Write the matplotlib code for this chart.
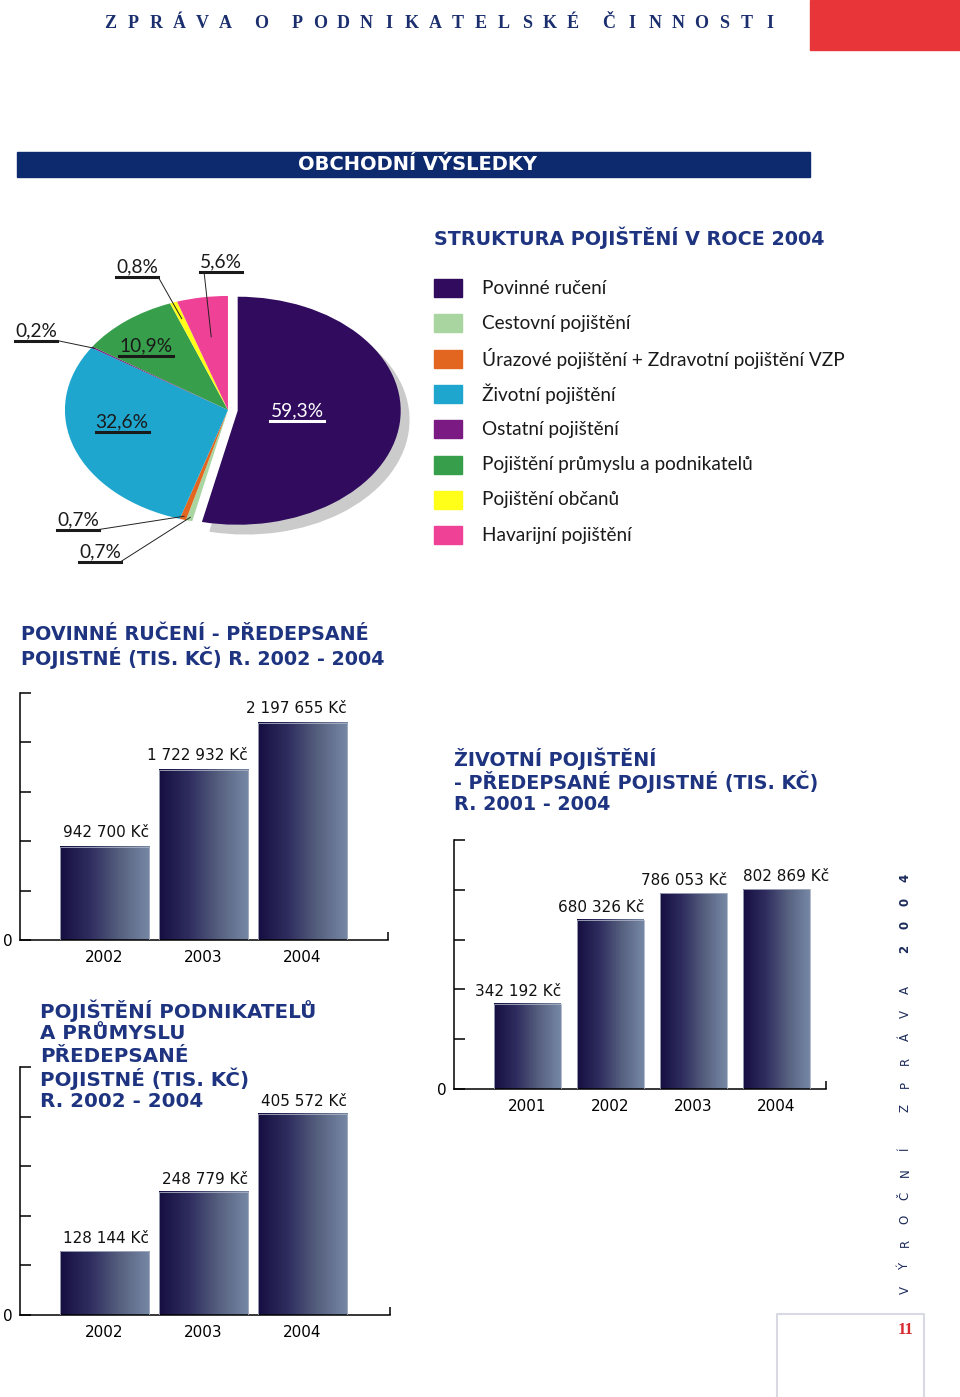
import matplotlib
matplotlib.use('Agg')
import matplotlib.pyplot as plt
import numpy as np
from matplotlib.patches import Rectangle, Wedge
from matplotlib.colors import LinearSegmentedColormap

# struktura pojisteni v roce 2004 (po smeru hodin od 12 hodin)
pie_names = ['Povinné ručení', 'Cestovní pojištění',
             'Úrazové pojištění + Zdravotní pojištění VZP', 'Životní pojištění',
             'Ostatní pojištění', 'Pojištění průmyslu a podnikatelů',
             'Pojištění občanů', 'Havarijní pojištění']
pie_share = [59.3, 0.7, 0.7, 32.6, 0.2, 10.9, 0.8, 5.6]
pie_colors = ['#300b5e', '#a9d6a0', '#e2661f', '#1fa6cf',
              '#7a1a82', '#379e4b', '#ffff1a', '#ef4297']

# predepsane pojistne (tis. Kc)
years_povinne = ['2002', '2003', '2004']
povinne = [942700, 1722932, 2197655]
years_zivotni = ['2001', '2002', '2003', '2004']
zivotni = [342192, 680326, 786053, 802869]
years_podnik = ['2002', '2003', '2004']
podnik = [128144, 248779, 405572]

W, H = 960, 1397
NAVY = '#1e3480'
SANS = ['Lato', 'DejaVu Sans']
plt.rcParams['font.family'] = ['DejaVu Sans']

fig = plt.figure(figsize=(W / 100, H / 100), dpi=100)


def px_axes(x0, y0, x1, y1):
    # axes placed in page pixels (y down)
    return fig.add_axes([x0 / W, 1 - y1 / H, (x1 - x0) / W, (y1 - y0) / H])


pg = px_axes(0, 0, W, H)
pg.set_xlim(0, W)
pg.set_ylim(H, 0)
pg.axis('off')
pg.set_zorder(10)

# page header
pg.add_patch(Rectangle((810, 0), 150, 50, color='#e8353a'))
words = ['ZPRÁVA', 'O', 'PODNIKATELSKÉ', 'ČINNOSTI']
i = 0
for w_i, word in enumerate(words):
    for ch in word:
        pg.text(110 + i * 23.0 + w_i * 13, 23, ch, color='#1b2f6e', fontsize=13,
                fontweight='bold', family='Liberation Serif', ha='center', va='center')
        i += 1

pg.add_patch(Rectangle((17, 152), 793, 25, color='#0e2a6e'))
pg.text(417, 165, 'OBCHODNÍ VÝSLEDKY', color='white', fontsize=14,
        fontweight='bold', ha='center', va='center')

# vertical side text
side_words = ['VÝROČNÍ', 'ZPRÁVA', '2004']
i = 0
for w_i, word in enumerate(side_words):
    for ch in word:
        pg.text(905, 1290 - i * 23.5 - w_i * 18, ch, color='#1b2a5a', fontsize=8.5,
                fontweight='bold' if w_i == 2 else 'normal', rotation=90,
                ha='center', va='center')
        i += 1

# page number box
pg.plot([777, 777, 924, 924], [1397, 1314, 1314, 1397], color='#d9d9e3', lw=1.5)
pg.text(906, 1330, '11', color='#d8282f', fontsize=12, fontweight='bold',
        family='Liberation Serif', ha='center', va='center')


def heading(x, y, lines, dy=23, size=13.8):
    for k, line in enumerate(lines):
        pg.text(x, y + k * dy, line, color=NAVY, fontsize=size, fontweight='bold',
                ha='left', va='center')


# ---- pie ----
ax_pie = px_axes(40, 280, 420, 560)
wedges, _ = ax_pie.pie(pie_share, colors=pie_colors, startangle=90, counterclock=False,
                       explode=[0.06] + [0] * 7, wedgeprops=dict(linewidth=0))
ax_pie.set_aspect('auto')
ax_pie.set_xlim(-1.153, 1.178)
ax_pie.set_ylim(-1.316, 1.140)
ax_pie.axis('off')
w0 = wedges[0]
ax_pie.add_patch(Wedge((w0.center[0] + 0.05, w0.center[1] - 0.08), w0.r, w0.theta1, w0.theta2,
                       color='#cbcbcb', zorder=0))

pie_lab_pos = [(297, 411, None), (100, 552, 'right'), (78, 520, 'right'), (122, 422, None),
               (36, 331, 'right'), (146, 346, None), (137, 267, 'right'), (221, 262, 'left')]
anchor_r = [0, 0.97, 0.97, 0, 0.98, 0, 0.85, 0.65]
pie_texts = []
for k, v in enumerate(pie_share):
    lx, ly, _s = pie_lab_pos[k]
    t = pg.text(lx, ly, f'{v:.1f}'.replace('.', ',') + '%', fontsize=13.8, family=SANS,
                color='white' if k == 0 else '#1a1a1a', ha='center', va='center')
    pie_texts.append(t)

# legend
pg.text(434, 238, 'STRUKTURA POJIŠTĚNÍ V ROCE 2004', color=NAVY, fontsize=13.8,
        fontweight='bold', ha='left', va='center')
for k, (name, col) in enumerate(zip(pie_names, pie_colors)):
    y = 288 + k * 35.3
    pg.add_patch(Rectangle((434, y - 9), 28, 18, color=col))
    pg.text(482, y, name, fontsize=13.7, family=SANS, color='#1a1a1a', ha='left', va='center')

# ---- bar charts ----
bar_cmap = LinearSegmentedColormap.from_list('bar', ['#150f40', '#2f2d5f', '#56607f', '#7688a5'])
grad = np.linspace(0, 1, 200).reshape(1, -1)


def bar_chart(rect, years, vals, ymax, xlim, width, align, lab_dy):
    ax = px_axes(*rect)
    x = np.arange(len(vals))
    bars = ax.bar(x, vals, width=width, color='none', edgecolor='#aab0c4',
                  linewidth=0.6, zorder=3)
    for b, v, al in zip(bars, vals, align):
        ax.imshow(grad, cmap=bar_cmap, aspect='auto', zorder=2,
                  extent=[b.get_x(), b.get_x() + b.get_width(), 0, b.get_height()])
        bx = b.get_x() + (b.get_width() if al == 'right' else 0)
        ax.annotate(f'{v:,} Kč'.replace(',', ' '), (bx, v), xytext=(0, lab_dy),
                    textcoords='offset pixels', ha=al, va='baseline', fontsize=11,
                    color='#111111')
    ax.set_xlim(*xlim)
    ax.set_ylim(0, ymax)
    ax.set_yticks(np.linspace(0, ymax, 6))
    ax.set_yticklabels(['0'] + [''] * 5)
    ax.tick_params(axis='y', direction='in', length=8, width=1.1, pad=5, labelsize=11)
    ax.set_xticks(x)
    ax.set_xticklabels(years)
    ax.tick_params(axis='x', length=0, pad=7, labelsize=11)
    ax.set_xticks([xlim[1]], minor=True)
    ax.tick_params(axis='x', which='minor', direction='in', length=6, width=1.1)
    for s in ['top', 'right']:
        ax.spines[s].set_visible(False)
    for s in ['left', 'bottom']:
        ax.spines[s].set_linewidth(1.1)
    ax.patch.set_alpha(0)
    return ax


heading(21, 635, ['POVINNÉ RUČENÍ - PŘEDEPSANÉ', 'POJISTNÉ (TIS. KČ) R. 2002 - 2004'])
bar_chart((20, 693, 388, 940), years_povinne, povinne, 2.5e6, (-0.854, 2.864), 0.9,
          ['right'] * 3, 10)

heading(454, 759, ['ŽIVOTNÍ POJIŠTĚNÍ', '- PŘEDEPSANÉ POJISTNÉ (TIS. KČ)', 'R. 2001 - 2004'])
bar_chart((454, 840, 826, 1089), years_zivotni, zivotni, 1e6, (-0.886, 3.596), 0.807,
          ['right', 'right', 'right', 'left'], 8)

heading(40, 1011, ['POJIŠTĚNÍ PODNIKATELŮ', 'A PRŮMYSLU', 'PŘEDEPSANÉ',
                   'POJISTNÉ (TIS. KČ)', 'R. 2002 - 2004'], dy=22.7, size=14.3)
bar_chart((20, 1067, 390, 1315), years_podnik, podnik, 5e5, (-0.854, 2.884), 0.9,
          ['right'] * 3, 8)

# underlines and leader lines of the pie labels
fig.canvas.draw()
rend = fig.canvas.get_renderer()
inv = pg.transData.inverted()
for t, (lx, ly, side), w, fr in zip(pie_texts, pie_lab_pos, wedges, anchor_r):
    bb = t.get_window_extent(rend)
    (x0, yb), (x1, _) = inv.transform([[bb.x0, bb.y0], [bb.x1, bb.y1]])
    yb += 1
    pg.plot([x0, x1], [yb, yb], color=t.get_color(), lw=2.2)
    if side:
        a = np.deg2rad((w.theta1 + w.theta2) / 2)
        cx, cy = w.center
        pt = (cx + fr * w.r * np.cos(a), cy + fr * w.r * np.sin(a))
        ex, ey = inv.transform(ax_pie.transData.transform(pt))
        sx = x1 if side == 'right' else x0 + 4
        pg.plot([sx, ex], [yb, ey], color='#222222', lw=0.7)

fig.savefig('out.png', dpi=100)
